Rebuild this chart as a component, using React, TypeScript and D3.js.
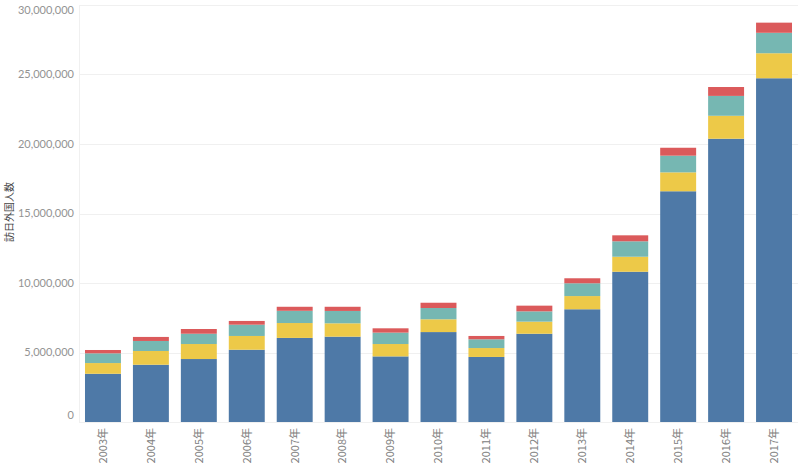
import React, { useRef, useEffect } from "react";
import * as d3 from "d3";

// 訪日外国人数 (millions)
const years = ["2003年", "2004年", "2005年", "2006年", "2007年", "2008年", "2009年", "2010年", "2011年", "2012年", "2013年", "2014年", "2015年", "2016年", "2017年"];
const seriesA = [3.47, 4.12, 4.53, 5.2, 6.05, 6.14, 4.72, 6.47, 4.68, 6.35, 8.11, 10.81, 16.6, 20.38, 24.73];
const seriesB = [0.77, 0.99, 1.08, 0.99, 1.07, 0.96, 0.89, 0.92, 0.64, 0.87, 0.95, 1.08, 1.36, 1.65, 1.8];
const seriesC = [0.7, 0.72, 0.74, 0.81, 0.88, 0.89, 0.82, 0.81, 0.63, 0.74, 0.92, 1.11, 1.2, 1.43, 1.47];
const seriesD = [0.24, 0.29, 0.34, 0.27, 0.29, 0.3, 0.31, 0.38, 0.24, 0.41, 0.36, 0.43, 0.57, 0.64, 0.73];
const yTicks = [0, 5000000, 10000000, 15000000, 20000000, 25000000, 30000000];
const colors = ["#4e79a7", "#edc948", "#76b7b2", "#db5a5b"];

export default function App() {
    const ref = useRef<SVGSVGElement>(null);

    useEffect(() => {
        const svg = d3.select(ref.current);
        svg.selectAll("*").remove();
        const left = 79, right = 798, top = 5, bottom = 422;

        const rows = years.map((y, i) => ({
            year: y,
            a: seriesA[i] * 1e6,
            b: seriesB[i] * 1e6,
            c: seriesC[i] * 1e6,
            d: seriesD[i] * 1e6,
        }));
        const stack = d3.stack<any>().keys(["a", "b", "c", "d"])(rows);

        const x = d3.scaleBand().domain(years).range([left, right]).paddingInner(0.25).paddingOuter(0.125);
        const y = d3.scaleLinear().domain([0, 30000000]).range([bottom, top]);

        // gridlines
        svg.append("g")
            .selectAll("line")
            .data(yTicks)
            .enter()
            .append("line")
            .attr("x1", left)
            .attr("x2", right)
            .attr("y1", (d) => Math.round(y(d)) + 0.5)
            .attr("y2", (d) => Math.round(y(d)) + 0.5)
            .style("stroke", "#f0f0f0")
            .style("stroke-width", 1);

        svg.append("line")
            .attr("x1", left + 0.5)
            .attr("x2", left + 0.5)
            .attr("y1", top)
            .attr("y2", bottom)
            .style("stroke", "#f0f0f0");

        // tick labels
        svg.append("g")
            .selectAll("text")
            .data(yTicks)
            .enter()
            .append("text")
            .attr("x", 74)
            .attr("y", (d) => {
                let p = y(d);
                if (d === 0) p -= 7;
                if (d === 30000000) p += 5;
                return p;
            })
            .attr("dy", "0.35em")
            .attr("text-anchor", "end")
            .style("font-family", "Lato, 'Noto Sans', sans-serif")
            .style("font-size", "11px")
            .style("fill", "#939393")
            .text((d) => d3.format(",")(d));

        // bars
        svg.append("g")
            .selectAll("g")
            .data(stack)
            .enter()
            .append("g")
            .style("fill", (_d, i) => colors[i])
            .selectAll("rect")
            .data((d) => d)
            .enter()
            .append("rect")
            .attr("x", (d: any) => x(d.data.year)!)
            .attr("width", x.bandwidth())
            .attr("y", (d) => y(d[1]))
            .attr("height", (d) => y(d[0]) - y(d[1]));

        // year labels
        svg.append("g")
            .selectAll("text")
            .data(years)
            .enter()
            .append("text")
            .attr("transform", (d) => `translate(${x(d)! + x.bandwidth() / 2},428) rotate(-90)`)
            .attr("dy", "0.35em")
            .attr("text-anchor", "end")
            .style("font-family", "'Noto Sans CJK JP', sans-serif")
            .style("font-size", "11px")
            .style("fill", "#808080")
            .text((d) => d);

        // axis title
        svg.append("text")
            .attr("transform", "translate(9,212) rotate(-90)")
            .attr("dy", "0.35em")
            .attr("text-anchor", "middle")
            .style("font-family", "'Noto Sans CJK JP', sans-serif")
            .style("font-size", "10px")
            .style("fill", "#444")
            .text("訪日外国人数");
    }, []);

    return (
        <div className="container">
            <svg ref={ref} width="800" height="466" style={{ position: "absolute", left: 0, top: 0, background: "#fff" }}></svg>
        </div>
    );
}
